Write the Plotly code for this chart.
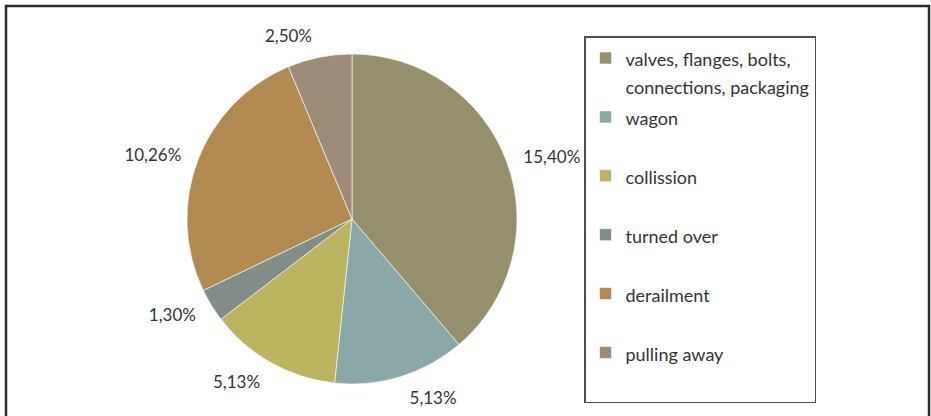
import plotly.graph_objects as go

# ─── Datos ───────────────────────────────────────────────────────────────
categorias = [
    "valves, flanges, bolts,<br>connections, packaging",
    "wagon",
    "collission",
    "turned over",
    "derailment",
    "pulling away",
]
valores = [15.40, 5.13, 5.13, 1.30, 10.26, 2.50]

# ─── Colores ─────────────────────────────────────────────────────────────
colores = ["#958F6B", "#8BA8A8", "#BCB45F", "#828D88", "#B08A51", "#9C8C77"]
TEXTO = "#333333"
FUENTE = "Lato"

W, H = 931, 416
CX, CY, R = 352, 219, 165      # centro y radio del pastel (px)
R_TXT = R + 12                 # radio del pastel invisible que lleva las etiquetas


def dominio(r):
    return dict(x=[(CX - r) / W, (CX + r) / W], y=[1 - (CY + r) / H, 1 - (CY - r) / H])


# la leyenda reserva dos renglones por entrada; el texto va más chico
etiquetas = []
for c in categorias:
    lineas = c.count("<br>") + 1
    txt = f"<span style='font-size:18px'>{c}</span>" + "<br> " * (2 - lineas)
    etiquetas.append(txt)

fig = go.Figure()

# ── Pastel visible ──────────────────────────────────────────────────────
fig.add_trace(go.Pie(
    labels=etiquetas,
    values=valores,
    sort=False,
    direction="clockwise",
    rotation=0,
    marker=dict(colors=colores, line=dict(color="rgba(255,255,255,0.6)", width=1)),
    textinfo="none",
    hovertemplate="%{value:.2f}%<extra></extra>",
    domain=dominio(R),
))

# ── Etiquetas (pastel transparente un poco mayor) ───────────────────────
fig.add_trace(go.Pie(
    labels=etiquetas,
    values=valores,
    sort=False,
    direction="clockwise",
    rotation=0,
    marker=dict(colors=["rgba(0,0,0,0)"] * len(valores), line=dict(width=0)),
    textposition="outside",
    texttemplate="%{value:.2f}%",
    textfont=dict(family=FUENTE, size=17, color=TEXTO),
    hoverinfo="skip",
    showlegend=False,
    domain=dominio(R_TXT),
))

# marco exterior
fig.add_shape(
    type="rect", xref="paper", yref="paper",
    x0=6 / W, x1=929 / W, y0=-0.1, y1=1 - 6 / H,
    line=dict(color="#2b2b2b", width=2.5),
)

fig.update_layout(
    width=W,
    height=H,
    margin=dict(l=0, r=0, t=0, b=0),
    paper_bgcolor="white",
    plot_bgcolor="white",
    separators=",.",
    font=dict(family=FUENTE, color=TEXTO),
    showlegend=True,
    legend=dict(
        x=584 / W, xanchor="left",
        y=1 - 36 / H, yanchor="top",
        font=dict(family=FUENTE, size=21.5, color=TEXTO),
        valign="top",
        bordercolor="#4d4d4d",
        borderwidth=1.5,
        bgcolor="rgba(255,255,255,0)",
    ),
)

fig.write_html(
    "out.html",
    config={"displayModeBar": False},
    post_script="document.body.style.margin='0';",
)
